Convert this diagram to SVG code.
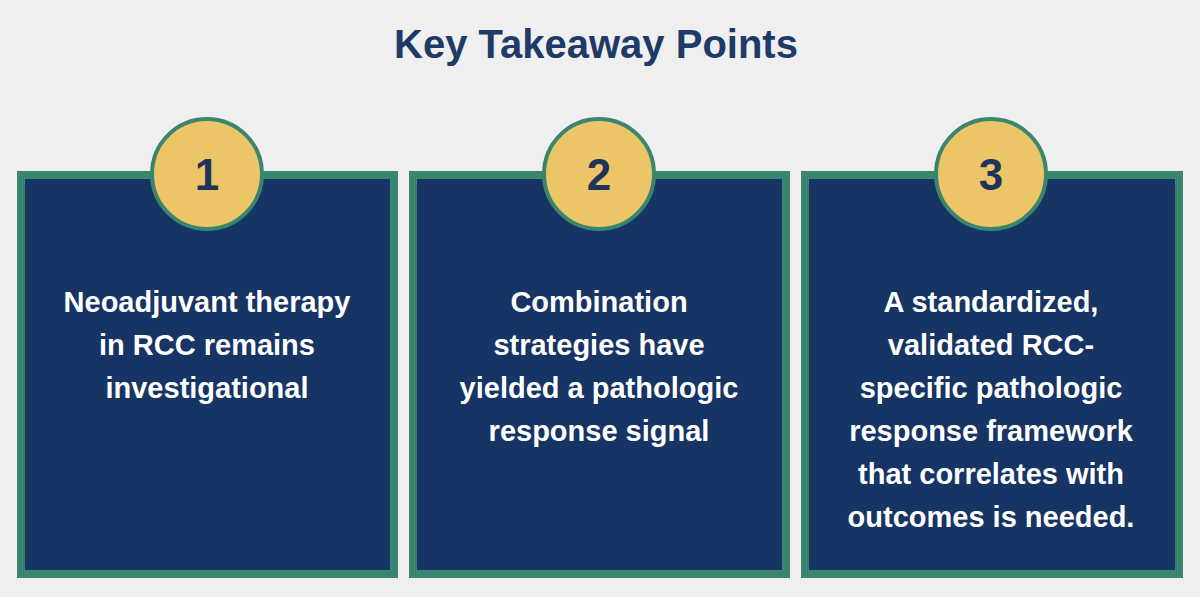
<svg xmlns="http://www.w3.org/2000/svg" width="1200" height="597" viewBox="0 0 1200 597">
<style>
.box{fill:#163564;stroke:#3a8570;stroke-width:8}
.circ{fill:#ecc666;stroke:#3a8570;stroke-width:4}
.num{font-family:"Liberation Sans",Arial,sans-serif;font-weight:bold;font-size:44px;fill:#1e3458;text-anchor:middle}
.t{font-family:"Liberation Sans",Arial,sans-serif;font-weight:bold;font-size:29px;fill:#ffffff;text-anchor:middle}
</style>
<rect width="1200" height="597" fill="#efefef"/>
<text x="596" y="58" font-family="Liberation Sans,Arial,sans-serif" font-weight="bold" font-size="40" fill="#1e3a66" text-anchor="middle">Key Takeaway Points</text>
<g id="node1">
<rect class="box" x="21" y="175" width="373" height="399"/>
<circle class="circ" cx="207" cy="174" r="55"/>
<text class="num" x="207" y="190">1</text>
<text class="t" x="207" y="312">Neoadjuvant therapy</text>
<text class="t" x="207" y="355">in RCC remains</text>
<text class="t" x="207" y="398">investigational</text>
</g>
<g id="node2">
<rect class="box" x="413" y="175" width="373" height="399"/>
<circle class="circ" cx="599" cy="174" r="55"/>
<text class="num" x="599" y="190">2</text>
<text class="t" x="599" y="312">Combination</text>
<text class="t" x="599" y="355">strategies have</text>
<text class="t" x="599" y="398">yielded a pathologic</text>
<text class="t" x="599" y="441">response signal</text>
</g>
<g id="node3">
<rect class="box" x="805" y="175" width="374" height="399"/>
<circle class="circ" cx="991" cy="174" r="55"/>
<text class="num" x="991" y="190">3</text>
<text class="t" x="991" y="312">A standardized,</text>
<text class="t" x="991" y="355">validated RCC-</text>
<text class="t" x="991" y="398">specific pathologic</text>
<text class="t" x="991" y="441">response framework</text>
<text class="t" x="991" y="484">that correlates with</text>
<text class="t" x="991" y="527">outcomes is needed.</text>
</g>
<g id="connectors"></g>
</svg>
